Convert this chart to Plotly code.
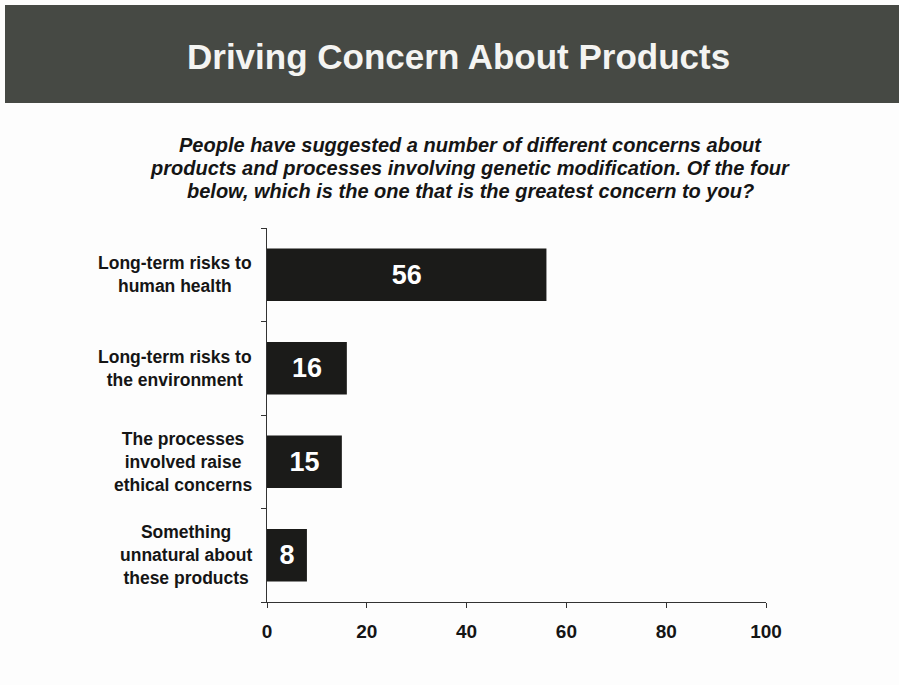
import plotly.graph_objects as go

# Survey responses (percent)
categories = [
    "Long-term risks to<br>human health",
    "Long-term risks to<br>the environment",
    "The processes<br>involved raise<br>ethical concerns",
    "Something<br>unnatural about<br>these products",
]
values = [56, 16, 15, 8]
x_ticks = [0, 20, 40, 60, 80, 100]

title_text = "Driving Concern About Products"
question_lines = [
    "People have suggested a number of different concerns about",
    "products and processes involving genetic modification. Of the four",
    "below, which is the one that is the greatest concern to you?",
]

W, H = 899, 685
L, R, T, B = 267, 766, 228, 602  # plot area in pixels
FONT = "Liberation Sans, Arial, sans-serif"


def px_x(px):
    return (px - L) / (R - L)


def px_y(py):
    return (B - py) / (B - T)


positions = list(range(len(categories)))

fig = go.Figure(
    go.Bar(
        x=values,
        y=positions,
        orientation="h",
        width=0.56,
        marker=dict(color="#1b1b19", line=dict(width=0)),
        text=[str(v) for v in values],
        textposition="inside",
        insidetextanchor="middle",
        textfont=dict(family=FONT, size=27, color="white", weight="bold"),
        cliponaxis=False,
        hoverinfo="skip",
    )
)

annotations = []
# category labels: centred multi-line blocks right-aligned against the axis
for pos, label in zip(positions, categories):
    annotations.append(dict(
        text=label, x=px_x(254), xref="paper", y=pos, yref="y",
        xanchor="right", yanchor="middle", align="center", showarrow=False,
        font=dict(family=FONT, size=17.5, color="#151515", weight="bold"),
    ))

annotations.append(dict(
    text=title_text, x=px_x(458), xref="paper", y=px_y(57), yref="paper",
    xanchor="center", yanchor="middle", showarrow=False,
    font=dict(family=FONT, size=35, color="#f4f4f2", weight="bold"),
))
for py, line in zip([145, 168, 191], question_lines):
    annotations.append(dict(
        text=line, x=px_x(470), xref="paper", y=px_y(py), yref="paper",
        xanchor="center", yanchor="middle", showarrow=False,
        font=dict(family=FONT, size=20, color="#151515", weight="bold",
                  style="italic"),
    ))

shapes = [
    # dark header band
    dict(type="rect", xref="paper", yref="paper",
         x0=px_x(5), x1=px_x(W), y0=px_y(103), y1=px_y(5),
         fillcolor="#464944", line=dict(width=0), layer="below"),
]

fig.update_layout(
    width=W, height=H,
    margin=dict(l=L, r=W - R, t=T, b=H - B),
    paper_bgcolor="#fdfdfd",
    plot_bgcolor="rgba(0,0,0,0)",
    showlegend=False,
    annotations=annotations,
    shapes=shapes,
    xaxis=dict(
        range=[0, 100], tickvals=x_ticks, ticktext=[str(t) for t in x_ticks],
        showgrid=False, zeroline=False, showline=True, linecolor="#333333",
        linewidth=1, ticks="outside", ticklen=5, tickcolor="#333333",
        ticklabelstandoff=7,
        tickfont=dict(family=FONT, size=19, color="#151515", weight="bold"),
        fixedrange=True,
    ),
    yaxis=dict(
        range=[len(categories) - 0.5, -0.5],
        tickvals=[i - 0.5 for i in range(len(categories) + 1)],
        ticktext=[""] * (len(categories) + 1),
        showgrid=False, zeroline=False, showline=True, linecolor="#333333",
        linewidth=1, ticks="outside", ticklen=5, tickcolor="#333333",
        fixedrange=True,
    ),
)

fig.write_html("out.html")
